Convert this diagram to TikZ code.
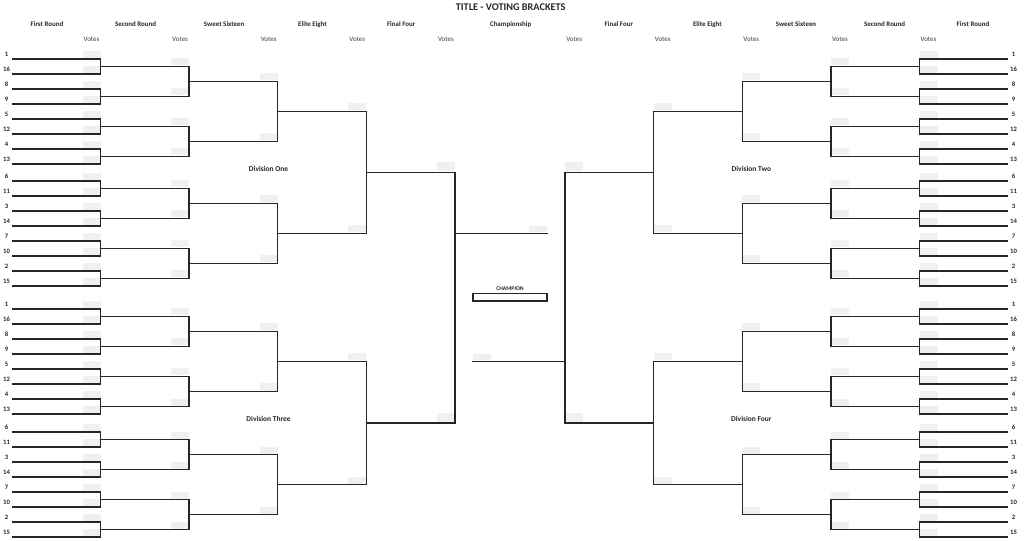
\documentclass[tikz,border=0pt]{standalone}
\usepackage{fontspec}
\setmainfont{Carlito}
\def\cx{510}
\tikzset{
  bline/.style={line width=1pt, draw=black!85, line cap=rect},
  vbox/.style={fill=black!6},
  seedlbl/.style={font=\fontsize{5}{6}\selectfont\bfseries, inner sep=0pt, text=black!85},
  hdr/.style={font=\fontsize{5.2}{6}\selectfont\bfseries, inner sep=0pt, text=black!85},
  votelbl/.style={font=\fontsize{5.2}{6}\selectfont, inner sep=0pt, text=black!75},
  divlbl/.style={font=\fontsize{5.6}{7}\selectfont\bfseries, inner sep=0pt, text=black!85},
  ttl/.style={font=\fontsize{7.7}{9}\selectfont\bfseries, inner sep=0pt, text=black!85},
  champlbl/.style={font=\fontsize{4.3}{5}\selectfont\bfseries, inner sep=0pt, text=black!85},
}
\newcommand\halfdiv[2]{%
  \foreach \l in {0,1,2,3}{%
    \pgfmathtruncatemacro\nm{8/(2^\l)-1}%
    \pgfmathsetmacro\V{\cx-(#1)*(409.5-88.6*\l)}%
    \pgfmathsetmacro\Vb{\V-(#1)*18}%
    \pgfmathsetmacro\P{\l==0 ? \cx-(#1)*497.7 : \cx-(#1)*(409.5-88.6*(\l-1))}%
    \foreach \k in {0,...,\nm}{%
      \pgfmathsetmacro\y{#2+15*((2^\l)*\k+((2^\l)-1)/2)}%
      \fill[vbox] (\Vb,\y-8) rectangle (\V,\y-1);
      \coordinate (ls) at (\P,\y);
      \coordinate (le) at (\V,\y);
      \draw[bline] (ls) -- (le);
    }%
    \ifnum\l<3
      \pgfmathtruncatemacro\mm{4/(2^\l)-1}%
      \foreach \k in {0,...,\mm}{%
        \pgfmathsetmacro\ya{#2+15*((2^\l)*2*\k+((2^\l)-1)/2)}%
        \pgfmathsetmacro\yb{\ya+15*(2^\l)}%
        \coordinate (va) at (\V,\ya);
        \coordinate (vb) at (\V,\yb);
        \draw[bline] (va) -- (vb);
      }%
    \fi
  }%
}
\newcommand\division[3]{%
  \halfdiv{#1}{#2}%
  \halfdiv{#1}{#3}%
  \pgfmathsetmacro\Vt{\cx-(#1)*(409.5-88.6*3)}%
  \pgfmathsetmacro\Vf{\cx-(#1)*(409.5-88.6*4)}%
  \pgfmathsetmacro\Vfb{\Vf-(#1)*18}%
  \pgfmathsetmacro\ya{#2+52.5}%
  \pgfmathsetmacro\yb{#3+52.5}%
  \pgfmathsetmacro\ym{(\ya+\yb)/2}%
  \coordinate (ea) at (\Vt,\ya);
  \coordinate (eb) at (\Vt,\yb);
  \draw[bline] (ea) -- (eb);
  \fill[vbox] (\Vfb,\ym-10) rectangle (\Vf,\ym-1);
  \coordinate (fa) at (\Vt,\ym);
  \coordinate (fb) at (\Vf,\ym);
  \draw[bline] (fa) -- (fb);
  \pgfmathsetmacro\sx{\cx-(#1)*503.5}%
  \foreach \s [count=\i from 0] in {1,16,8,9,5,12,4,13,6,11,3,14,7,10,2,15}{%
    \pgfmathsetmacro\y{\i<8 ? #2+15*\i : #3+15*(\i-8)}%
    \node[seedlbl] at (\sx,\y-4.9) {\s};
  }%
}
\begin{document}
\begin{tikzpicture}[x=0.75pt,y=-0.75pt]
\useasboundingbox (0,0) rectangle (1024,541);
\division{1}{59}{181}
\division{1}{309}{432}
\division{-1}{59}{181}
\division{-1}{309}{432}
% final four verticals
\coordinate (ffLt) at (454.9,172.5);
\coordinate (ffLb) at (454.9,423);
\draw[bline] (ffLt) -- (ffLb);
\coordinate (ffRt) at (565.1,172.5);
\coordinate (ffRb) at (565.1,423);
\draw[bline] (ffRt) -- (ffRb);
% championship lines
\fill[vbox] (529,226.5) rectangle (547,232.5);
\coordinate (chL) at (454.9,233.5);
\coordinate (chLe) at (547,233.5);
\draw[bline] (chL) -- (chLe);
\fill[vbox] (473,354) rectangle (491,360.5);
\coordinate (chR) at (565.1,361.5);
\coordinate (chRe) at (473,361.5);
\draw[bline] (chR) -- (chRe);
% champion box
\draw[line width=1pt, draw=black!85] (473,293.3) rectangle (547,301);
\node[champlbl] (champ) at (510,289) {CHAMPION};
% title and headers
\node[ttl] (title) at (510.7,7.3) {TITLE - VOTING BRACKETS};
\node[hdr] (hL1) at (47,24.5) {First Round};
\node[hdr] (hL2) at (135.6,24.5) {Second Round};
\node[hdr] (hL3) at (224.2,24.5) {Sweet Sixteen};
\node[hdr] (hL4) at (312.5,24.5) {Elite Eight};
\node[hdr] (hL5) at (401.2,24.5) {Final Four};
\node[hdr] (hC) at (510.7,24.5) {Championship};
\node[hdr] (hR5) at (618.8,24.5) {Final Four};
\node[hdr] (hR4) at (707.4,24.5) {Elite Eight};
\node[hdr] (hR3) at (796,24.5) {Sweet Sixteen};
\node[hdr] (hR2) at (884.6,24.5) {Second Round};
\node[hdr] (hR1) at (973,24.5) {First Round};
\foreach \k in {0,...,4}{
  \pgfmathsetmacro\vl{\cx-409.5+88.6*\k-9}
  \pgfmathsetmacro\vr{\cx+409.5-88.6*\k+9}
  \node[votelbl] (vL\k) at (\vl,39.8) {Votes};
  \node[votelbl] (vR\k) at (\vr,39.8) {Votes};
}
\node[divlbl] (d1) at (268.6,168.8) {Division One};
\node[divlbl] (d2) at (751.4,168.8) {Division Two};
\node[divlbl] (d3) at (268.6,419.3) {Division Three};
\node[divlbl] (d4) at (751.4,419.3) {Division Four};
\end{tikzpicture}
\end{document}
